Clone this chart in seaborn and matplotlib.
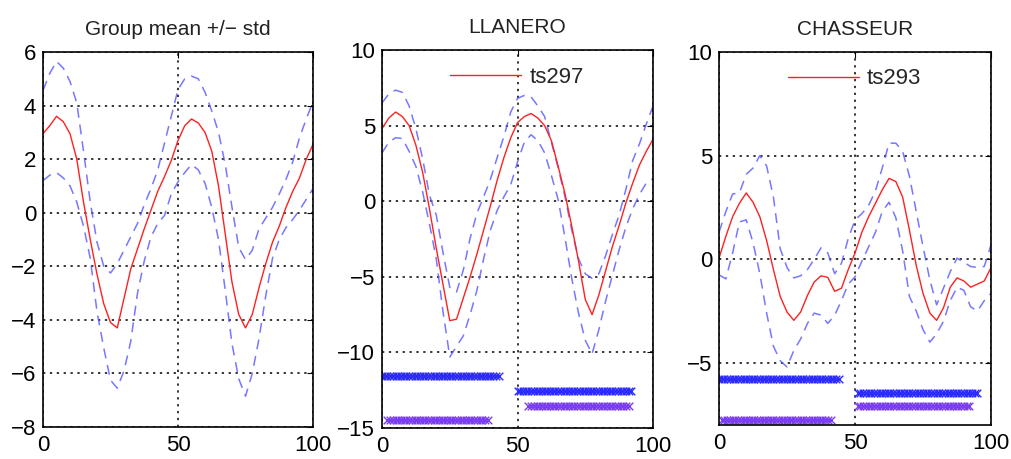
import seaborn as sns
import matplotlib.pyplot as plt
import numpy as np

# sample positions (0..100, every 2.5)
t = np.linspace(0, 100, 41)

# Group mean +/- std
grp_mean = [2.95, 3.25, 3.6, 3.4, 2.95, 2.0, 0.4, -1.0, -2.3, -3.4, -4.1, -4.3, -3.2, -2.1, -1.35, -0.6,
            0.1, 0.8, 1.35, 1.95, 2.7, 3.25, 3.5, 3.35, 3.0, 2.3, 1.0, -0.8, -2.6, -3.8, -4.3, -3.8, -2.8,
            -1.9, -1.1, -0.5, 0.2, 0.8, 1.3, 2.0, 2.55]
grp_upper = [4.57, 5.2, 5.65, 5.4, 4.9, 4.1, 2.3, 0.4, -1.1, -2.0, -2.25, -1.9, -1.4, -0.9, -0.4, 0.3,
             0.9, 1.6, 2.6, 3.6, 4.6, 5.0, 5.1, 5.0, 4.5, 3.8, 3.0, 1.8, 0.2, -1.3, -1.75, -1.4, -0.6,
             -0.2, 0.2, 0.7, 1.25, 1.9, 2.8, 3.5, 4.15]
grp_lower = [1.2, 1.4, 1.5, 1.3, 1.0, 0.4, -0.5, -1.7, -3.7, -5.05, -6.25, -6.55, -5.9, -4.8, -3.0, -1.8,
             -0.9, -0.4, -0.1, 0.7, 1.15, 1.5, 1.8, 1.6, 1.1, 0.2, -1.0, -2.9, -4.9, -6.2, -6.85, -6.0,
             -4.7, -3.1, -1.7, -1.0, -0.55, -0.25, 0.1, 0.5, 0.9]

# LLANERO (ts297)
lla_mean = [4.8, 5.5, 5.9, 5.6, 5.0, 3.7, 1.9, -0.5, -3.1, -5.5, -7.9, -7.8, -6.4, -5.0, -3.5, -1.9,
            -0.3, 1.4, 2.9, 4.2, 5.2, 5.6, 5.8, 5.5, 5.0, 4.0, 2.3, 0.5, -1.65, -3.95, -6.5, -7.5, -6.2,
            -4.6, -3.0, -1.6, -0.1, 1.2, 2.4, 3.3, 4.1]
lla_upper = [6.5, 7.1, 7.35, 7.2, 6.3, 4.8, 2.8, 0.4, -0.9, -3.4, -5.7, -6.0, -4.55, -2.45, -0.8, 0.3,
             1.45, 2.9, 4.3, 5.9, 6.8, 7.0, 6.9, 6.3, 5.6, 3.9, 2.2, 0.3, -1.9, -3.8, -4.8, -5.1, -4.8,
             -3.6, -2.2, -0.9, 0.8, 2.7, 3.8, 5.1, 6.3]
lla_lower = [3.2, 3.9, 4.2, 4.15, 3.3, 2.3, 0.6, -1.5, -3.8, -7.3, -10.3, -9.6, -8.9, -7.5, -5.9, -3.8,
             -1.9, -0.6, 0.3, 1.1, 2.6, 3.9, 4.4, 4.0, 3.2, 1.7, 0.1, -2.4, -5.1, -7.4, -9.2, -10.1,
             -8.5, -6.6, -4.9, -3.2, -1.7, -0.5, 0.45, 1.2, 1.5]

# CHASSEUR (ts293)
cha_mean = [0.05, 1.1, 2.05, 2.7, 3.2, 2.75, 2.05, 0.9, -0.5, -1.8, -2.55, -2.95, -2.55, -1.75, -1.1, -0.8,
            -0.88, -1.55, -1.4, -0.5, 0.3, 1.3, 2.05, 2.7, 3.35, 3.9, 3.75, 3.0, 1.4, -0.3, -1.65, -2.6,
            -2.95, -2.35, -1.35, -0.9, -1.05, -1.35, -1.2, -1.05, -0.4]
cha_upper = [1.3, 2.3, 3.15, 3.2, 4.1, 4.4, 5.0, 4.5, 3.0, 0.5, -0.4, -0.9, -0.8, -0.5, 0.0, 0.55,
             0.3, -0.7, -0.2, 1.0, 1.9, 2.2, 2.6, 3.3, 4.4, 5.6, 5.6, 5.2, 4.0, 2.3, 0.6, -1.0, -2.2,
             -1.4, -0.6, 0.05, -0.15, -0.35, -0.4, -0.35, 0.7]
cha_lower = [-0.75, -0.95, 0.3, 1.8, 1.9, 0.8, -0.7, -2.6, -4.2, -4.9, -5.2, -4.4, -3.85, -3.1, -2.6, -2.7,
             -3.1, -2.7, -2.0, -1.2, -0.85, -0.1, 0.6, 1.3, 2.3, 2.75, 2.0, 0.4, -1.8, -2.5, -3.4, -4.0,
             -3.6, -3.0, -2.0, -1.35, -1.5, -2.3, -2.5, -2.0, -1.65]

# significance bands: (level, first sample, last sample)
lla_bands_blue = [(-11.55, 0, 43), (-12.55, 50, 92)]
lla_bands_purple = [(-14.5, 2, 39), (-13.55, 54, 91)]
cha_bands_blue = [(-5.8, 0, 44), (-6.45, 51, 95)]
cha_bands_purple = [(-7.75, 1, 41), (-7.1, 51, 92)]

titles = ["Group mean +/\u2212 std", "LLANERO", "CHASSEUR"]
labels = [None, "ts297", "ts293"]

sns.set_style("white")
plt.rcParams['font.family'] = ['Liberation Sans', 'DejaVu Sans']

fig = plt.figure(figsize=(10.12, 4.59), dpi=100)
boxes = [[0.0425, 0.0697, 0.2668, 0.817],
         [0.3775, 0.0675, 0.2678, 0.8235],
         [0.7105, 0.0741, 0.2688, 0.8126]]
axes = [fig.add_axes(b) for b in boxes]

panels = [(grp_mean, grp_upper, grp_lower, [], [], (-8, 6), [-8, -6, -4, -2, 0, 2, 4, 6]),
          (lla_mean, lla_upper, lla_lower, lla_bands_blue, lla_bands_purple, (-15, 10), [-15, -10, -5, 0, 5, 10]),
          (cha_mean, cha_upper, cha_lower, cha_bands_blue, cha_bands_purple, (-8, 10), [-5, 0, 5, 10])]

dash_col = '#5f5fff'
for i, (ax, (m, up, lo, bb, pb, ylim, yt)) in enumerate(zip(axes, panels)):
    sns.lineplot(x=t, y=up, ax=ax, color=dash_col, lw=1.1, linestyle=(0, (6.5, 4.5)), alpha=0.85)
    sns.lineplot(x=t, y=lo, ax=ax, color=dash_col, lw=1.1, linestyle=(0, (6.5, 4.5)), alpha=0.85)
    sns.lineplot(x=t, y=m, ax=ax, color='#ff2020', lw=1.0, label=labels[i])
    for lev, a, b in bb:
        xs = np.arange(a, b + 1)
        sns.scatterplot(x=xs, y=np.full(len(xs), lev), ax=ax, marker='x', s=30,
                        color='#2a2aff', linewidth=1.0, legend=False)
    for lev, a, b in pb:
        xs = np.arange(a, b + 1)
        sns.scatterplot(x=xs, y=np.full(len(xs), lev), ax=ax, marker='x', s=30,
                        color='#7a3cf0', linewidth=1.0, legend=False)

    ax.set_xlim(0, 100)
    ax.set_ylim(*ylim)
    ax.set_xticks([0, 50, 100])
    ax.set_yticks(yt)
    ax.set_xlabel("")
    ax.set_ylabel("")
    ax.grid(True, color='black', linestyle=(0, (1.5, 3)), lw=1.1)
    ax.tick_params(direction='in', top=True, right=True, length=4, labelsize=16, colors='black')
    ax.tick_params(axis='x', pad=6)
    ax.tick_params(axis='y', pad=5)
    for s in ax.spines.values():
        s.set_color('black')
        s.set_linewidth(1.2)
    ax.set_title(titles[i], fontsize=15, pad=12, color='#222222')
    if labels[i]:
        ax.legend(loc='center left', bbox_to_anchor=(0.252, 0.928), frameon=False, fontsize=16,
                  handlelength=3.2, handletextpad=0.35, borderpad=0, borderaxespad=0)
    elif ax.get_legend():
        ax.get_legend().remove()

fig.savefig("out.png", dpi=100)
